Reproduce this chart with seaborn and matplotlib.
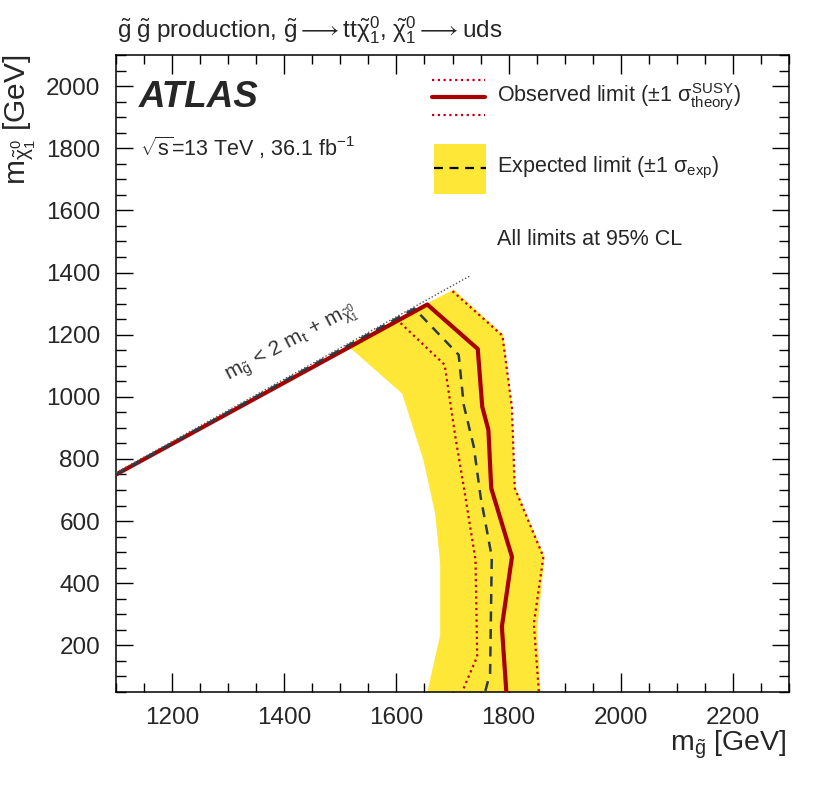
import numpy as np
import pandas as pd
import matplotlib
matplotlib.use("Agg")
import matplotlib.pyplot as plt
from matplotlib.ticker import MultipleLocator
import seaborn as sns

# ---------------- data ----------------
obs_x = [1100, 1655, 1745, 1753, 1764, 1769, 1806, 1788, 1796]
obs_y = [750, 1297, 1154, 968, 893, 706, 485, 260, 50]

obs_up_x = [1700, 1789, 1806, 1811, 1862, 1845, 1854]
obs_up_y = [1340, 1197, 965, 706, 485, 270, 50]

obs_dn_x = [1600, 1686, 1705, 1720, 1741, 1744, 1717]
obs_dn_y = [1250, 1103, 872, 711, 475, 164, 50]

exp_x = [1100, 1632, 1711, 1720, 1738, 1750, 1770, 1767, 1758]
exp_y = [750, 1284, 1135, 974, 839, 679, 485, 110, 50]

band_lo_x = [1655, 1678, 1678, 1669, 1648, 1610, 1512]   # bottom -> top
band_lo_y = [50, 233, 464, 625, 797, 1011, 1166]
band_hi_x = [1702, 1791, 1806, 1812, 1864, 1851, 1857]   # top -> bottom
band_hi_y = [1345, 1199, 968, 711, 485, 250, 50]

kin_x = [1100, 1730]
kin_y = [756, 1388]

XLIM = (1100, 2300)
YLIM = (50, 2100)

RED = '#a80000'
DRED = '#c0001e'
YEL = '#ffe737'
DASH = '#2d3a44'

# ---------------- style ----------------
sns.set_theme(style="ticks")
plt.rcParams['font.family'] = ['Liberation Sans', 'DejaVu Sans']
plt.rcParams.update({
    'mathtext.fontset': 'custom',
    'mathtext.rm': 'Liberation Sans',
    'mathtext.it': 'Liberation Sans',
    'mathtext.bf': 'Liberation Sans:bold',
    'mathtext.sf': 'Liberation Sans',
    'axes.linewidth': 1.1,
    'axes.edgecolor': 'black',
})

fig = plt.figure(figsize=(8.3, 7.87), dpi=100)
ax = fig.add_axes([0.1398, 0.1207, 0.8108, 0.8094])

# expected band
band = pd.DataFrame({'x': band_lo_x + band_hi_x, 'y': band_lo_y + band_hi_y})
ax.fill(band['x'], band['y'], color=YEL, lw=0, zorder=1)

dot = (0, (1, 1.6))
sns.lineplot(x=obs_up_x, y=obs_up_y, sort=False, estimator=None, ax=ax,
             color=DRED, linewidth=1.6, linestyle=dot, zorder=3)
sns.lineplot(x=obs_dn_x, y=obs_dn_y, sort=False, estimator=None, ax=ax,
             color=DRED, linewidth=1.6, linestyle=dot, zorder=3)
sns.lineplot(x=obs_x, y=obs_y, sort=False, estimator=None, ax=ax,
             color=RED, linewidth=3.0, zorder=4)
sns.lineplot(x=exp_x, y=exp_y, sort=False, estimator=None, ax=ax,
             color=DASH, linewidth=1.8, linestyle=(0, (4, 3)), zorder=5)
sns.lineplot(x=kin_x, y=kin_y, sort=False, estimator=None, ax=ax,
             color='#555555', linewidth=1.0, linestyle=(0, (1, 1.5)), zorder=6)

ax.text(1413, 1172, r"m$_{\tilde{g}}$ < 2 m$_{t}$ + m$_{\tilde{\chi}^{0}_{1}}$",
        rotation=28, ha='center', va='center', fontsize=15, color='#333333',
        rotation_mode='anchor')

ax.set_xlim(*XLIM)
ax.set_ylim(*YLIM)
ax.xaxis.set_major_locator(MultipleLocator(200))
ax.xaxis.set_minor_locator(MultipleLocator(50))
ax.yaxis.set_major_locator(MultipleLocator(200))
ax.yaxis.set_minor_locator(MultipleLocator(50))
ax.tick_params(which='both', direction='in', top=True, right=True, width=1.0, color='black')
ax.tick_params(axis='x', which='major', length=13.5, pad=11, labelsize=17.5)
ax.tick_params(axis='x', which='minor', length=6.5)
ax.tick_params(axis='y', which='major', length=12, pad=11.5, labelsize=17.5)
ax.tick_params(axis='y', which='minor', length=7)
ax.set_xticks([1200, 1400, 1600, 1800, 2000, 2200])
ax.set_yticks([200, 400, 600, 800, 1000, 1200, 1400, 1600, 1800, 2000])
ax.set_xlabel('')
ax.set_ylabel('')

# ---------------- annotations ----------------
fig.text(0.141, 0.952,
         r"$\tilde{g}\;\tilde{g}$ production, "
         r"$\tilde{g} \longrightarrow \mathrm{tt}\tilde{\chi}^{0}_{1}$, "
         r"$\tilde{\chi}^{0}_{1} \longrightarrow \mathrm{uds}$",
         ha='left', va='baseline', fontsize=17.5)
fig.text(0.948, 0.053, r"m$_{\tilde{g}}$ [GeV]", ha='right', va='center', fontsize=20.5)
fig.text(0.024, 0.930, r"m$_{\tilde{\chi}^{0}_{1}}$ [GeV]", ha='center', va='top',
         rotation=90, fontsize=21.5)

ax.text(0.034, 0.934, "ATLAS", transform=ax.transAxes, fontsize=26.5,
        fontweight='bold', fontstyle='italic', va='center', ha='left')
ax.text(0.036, 0.854, r"$\sqrt{s}$=13 TeV , 36.1 fb$^{-1}$", transform=ax.transAxes,
        fontsize=15.5, va='center', ha='left')

# legend (drawn by hand, ROOT style)
lx0, lx1 = 0.470, 0.548
ax.plot([lx0, lx1], [0.961, 0.961], transform=ax.transAxes, color=DRED, lw=1.6, ls=dot)
ax.plot([lx0, lx1], [0.906, 0.906], transform=ax.transAxes, color=DRED, lw=1.6, ls=dot)
ax.plot([lx0, lx1], [0.934, 0.934], transform=ax.transAxes, color=RED, lw=3.0)
ax.text(0.566, 0.934, r"Observed limit ($\pm$1 $\sigma^{\mathrm{SUSY}}_{\mathrm{theory}}$)",
        transform=ax.transAxes, fontsize=15.5, va='center', ha='left')
ax.add_patch(plt.Rectangle((0.4725, 0.782), 0.0775, 0.078, transform=ax.transAxes,
                           color=YEL, lw=0))
ax.plot([0.4725, 0.55], [0.8226, 0.8226], transform=ax.transAxes, color='black',
        lw=1.6, ls=(0, (4, 3)))
ax.text(0.566, 0.8226, r"Expected limit ($\pm$1 $\sigma_{\mathrm{exp}}$)",
        transform=ax.transAxes, fontsize=15.5, va='center', ha='left')
ax.text(0.566, 0.7096, "All limits at 95% CL", transform=ax.transAxes,
        fontsize=15.5, va='center', ha='left')

fig.savefig('out.png', dpi=100)
